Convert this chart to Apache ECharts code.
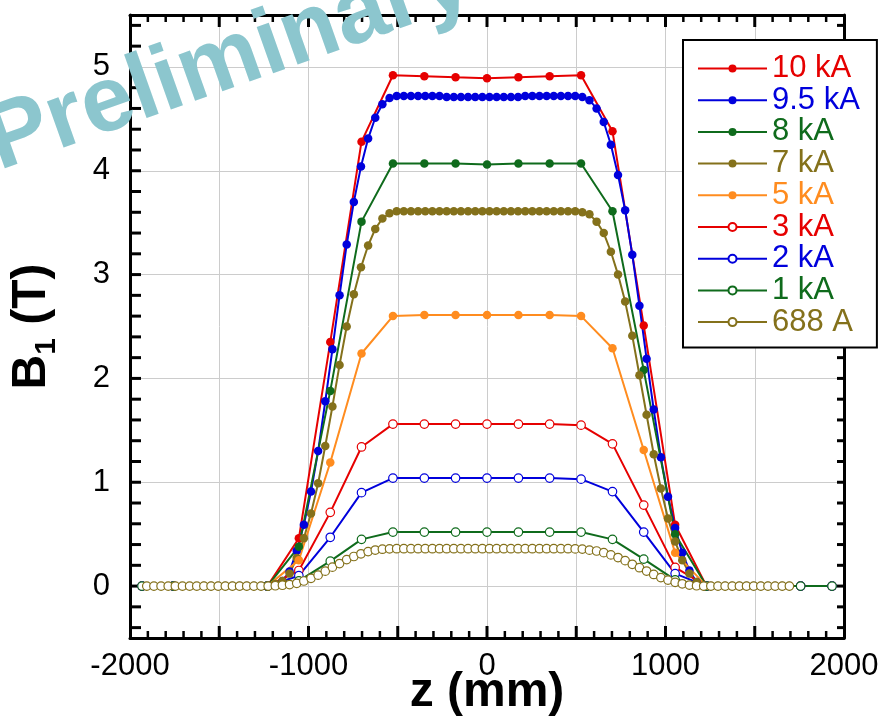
<!DOCTYPE html>
<html><head><meta charset="utf-8">
<script src="https://cdn.jsdelivr.net/npm/echarts@6/dist/echarts.min.js"></script>
<style>html,body{margin:0;padding:0;background:#fff}#c{width:885px;height:721px}</style>
</head><body><div id="c"></div>
<script>
// ---- data ----
const seriesNames = ['10 kA', '9.5 kA', '8 kA', '7 kA', '5 kA', '3 kA', '2 kA', '1 kA', '688 A'];
const X_MIN = -2000, X_MAX = 2000, Y_MIN = -0.5, Y_MAX = 5.5;
const xLabels = [-2000, -1000, 0, 1000, 2000];
const xMajorTicks = [-1500, -1000, -500, 0, 500, 1000, 1500];
const xMinorTicks = [-1900, -1800, -1700, -1600, -1400, -1300, -1200, -1100, -900, -800, -700, -600, -400, -300, -200, -100, 100, 200, 300, 400, 600, 700, 800, 900, 1100, 1200, 1300, 1400, 1600, 1700, 1800, 1900];
const yLabels = [0, 1, 2, 3, 4, 5];
const yMinorTicks = [-0.4, -0.2, 0, 0.2, 0.4, 0.6, 0.8, 1, 1.2, 1.4, 1.6, 1.8, 2, 2.2, 2.4, 2.6, 2.8, 3, 3.2, 3.4, 3.6, 3.8, 4, 4.2, 4.4, 4.6, 4.8, 5, 5.2, 5.4];

// z positions (mm) of the coarse scans
const zSparse = [-1933, -1757, -1230, -1054, -878, -703, -527, -351, -176, 0, 176, 351, 527, 703, 878, 1054, 1230, 1757, 1933];
// z positions (mm) of the fine scans
const zDense = [-1906, -1866, -1826, -1786, -1746, -1706, -1666, -1626, -1586, -1546, -1506, -1466, -1426, -1386, -1346, -1306, -1266, -1226, -1186, -1146, -1106, -1066, -1026, -986, -946, -906, -866, -826, -786, -746, -706, -666, -626, -586, -546, -506, -466, -426, -386, -346, -306, -266, -226, -186, -146, -106, -66, -26, 14, 54, 94, 134, 174, 214, 254, 294, 334, 374, 414, 454, 494, 534, 574, 614, 654, 694, 734, 774, 814, 854, 894, 934, 974, 1014, 1054, 1094, 1134, 1174, 1214, 1254, 1294, 1334, 1374, 1414, 1454, 1494, 1534, 1574, 1614, 1654, 1694];

const b10kA = [0, 0, 0, 0.46, 2.35, 4.28, 4.92, 4.91, 4.90, 4.89, 4.90, 4.91, 4.92, 4.38, 2.51, 0.59, 0, 0, 0];
const b8kA  = [0, 0, 0, 0.38, 1.88, 3.51, 4.07, 4.07, 4.07, 4.06, 4.07, 4.07, 4.07, 3.61, 2.08, 0.50, 0, 0, 0];
const b5kA  = [0, 0, 0, 0.25, 1.19, 2.24, 2.60, 2.61, 2.61, 2.61, 2.61, 2.61, 2.60, 2.29, 1.31, 0.32, 0, 0, 0];
const b3kA  = [0, 0, 0, 0.15, 0.71, 1.34, 1.56, 1.56, 1.56, 1.56, 1.56, 1.56, 1.55, 1.37, 0.78, 0.18, 0, 0, 0];
const b2kA  = [0, 0, 0, 0.10, 0.47, 0.90, 1.04, 1.04, 1.04, 1.04, 1.04, 1.04, 1.03, 0.91, 0.52, 0.12, 0, 0, 0];
const b1kA  = [0, 0, 0, 0.05, 0.24, 0.45, 0.52, 0.52, 0.52, 0.52, 0.52, 0.52, 0.52, 0.45, 0.26, 0.06, 0, 0, 0];

const b9p5kA = [null, null, null, null, null, null, null, null,
  0, 0, 0, 0, 0, 0, 0, 0, 0, 0,
  0.01, 0.05, 0.14, 0.34, 0.59, 0.91, 1.30, 1.78, 2.28, 2.80, 3.29, 3.70, 4.04, 4.31, 4.51, 4.64, 4.70, 4.72,
  4.72, 4.72, 4.72, 4.72, 4.72, 4.72, 4.71, 4.71, 4.71, 4.71, 4.71, 4.71, 4.71, 4.71, 4.71, 4.71, 4.71, 4.72, 4.72, 4.72, 4.72, 4.72, 4.72, 4.72,
  4.72, 4.71, 4.68, 4.60, 4.47, 4.25, 3.96, 3.62, 3.19, 2.70, 2.19, 1.70, 1.24, 0.86, 0.56, 0.32, 0.15, 0.04,
  0, 0, 0, 0, 0, 0, 0, 0, 0, 0, 0, 0, 0];
const b7kA = [null, null, null, null, null, null, null, null,
  0, 0, 0, 0, 0, 0, 0, 0, 0, 0,
  0.02, 0.05, 0.12, 0.27, 0.46, 0.70, 0.99, 1.35, 1.73, 2.13, 2.50, 2.81, 3.07, 3.28, 3.44, 3.54, 3.59, 3.61,
  3.61, 3.61, 3.61, 3.61, 3.61, 3.61, 3.61, 3.61, 3.61, 3.61, 3.61, 3.61, 3.61, 3.61, 3.61, 3.61, 3.61, 3.61, 3.61, 3.61, 3.61, 3.61, 3.61, 3.61,
  3.61, 3.60, 3.58, 3.51, 3.40, 3.22, 3.00, 2.74, 2.41, 2.03, 1.65, 1.27, 0.94, 0.65, 0.43, 0.25, 0.12, 0.04,
  0, 0, 0, 0, 0, 0, 0, 0, 0, 0, 0, 0, 0];
const b688A = [0, 0, 0, 0, 0, 0, 0, 0, 0, 0, 0, 0, 0, 0, 0, 0, 0, 0,
  0.003, 0.008, 0.015, 0.027, 0.049, 0.075, 0.105, 0.144, 0.182, 0.217, 0.255, 0.285, 0.311, 0.332, 0.347, 0.355, 0.359, 0.36,
  0.36, 0.36, 0.36, 0.36, 0.36, 0.36, 0.36, 0.36, 0.36, 0.36, 0.36, 0.36, 0.36, 0.36, 0.36, 0.36, 0.36, 0.36, 0.36, 0.36, 0.36, 0.36, 0.36, 0.36,
  0.358, 0.356, 0.346, 0.338, 0.322, 0.30, 0.275, 0.245, 0.21, 0.177, 0.145, 0.112, 0.082, 0.058, 0.036, 0.022, 0.01, 0.003,
  0, 0, 0, 0, 0, 0, 0, 0, 0, 0, 0, 0, 0];

// ---- styling ----
const FONT = '"Liberation Sans", Arial, Helvetica, sans-serif';
const RED = '#e60000', BLUE = '#0000dc', GREEN = '#0f6b1c', OLIVE = '#84711b', ORANGE = '#ff8c1f';

function pairs(z, v) {
  const out = [];
  for (let i = 0; i < z.length; i++) if (v[i] !== null && v[i] !== undefined) out.push([z[i], v[i]]);
  return out;
}
function mk(name, z, v, color, open) {
  return {
    type: 'line', name: name, xAxisIndex: 0, yAxisIndex: 0, data: pairs(z, v),
    symbol: 'circle', symbolSize: 8.5,
    lineStyle: { color: color, width: 2 },
    itemStyle: open ? { color: '#ffffff', borderColor: color, borderWidth: 1.2 }
                    : { color: color, borderWidth: 0 },
    emphasis: { disabled: true }
  };
}
const defs = [
  [b10kA, zSparse, RED, false],
  [b9p5kA, zDense, BLUE, false],
  [b8kA, zSparse, GREEN, false],
  [b7kA, zDense, OLIVE, false],
  [b5kA, zSparse, ORANGE, false],
  [b3kA, zSparse, RED, true],
  [b2kA, zSparse, BLUE, true],
  [b1kA, zSparse, GREEN, true],
  [b688A, zDense, OLIVE, true]
];
const series = defs.map((d, i) => mk(seriesNames[i], d[1], d[0], d[2], d[3]));
// horizontal grid lines at the labelled B values, drawn beneath the curves
series[0].markLine = {
  silent: true, z: 1, animation: false, symbol: ['none', 'none'],
  label: { show: false },
  lineStyle: { color: '#cccccc', width: 1, type: 'solid' },
  emphasis: { disabled: true },
  data: yLabels.map(v => ({ yAxis: v }))
};

// inward tick marks on all four sides, placed through the axes' own scales
// kind: 0 bottom major, 1 bottom minor, 2 top major, 3 top minor, 4 left, 5 right
const tickMarks = [].concat(
  xMajorTicks.map(v => [v, Y_MIN, 0]),
  xMinorTicks.map(v => [v, Y_MIN, 1]),
  xMajorTicks.map(v => [v, Y_MAX, 2]),
  xMinorTicks.map(v => [v, Y_MAX, 3]),
  yMinorTicks.map(v => [X_MIN, v, 4]),
  yMinorTicks.map(v => [X_MAX, v, 5])
);
const TICK_LEN = [12, 7, 12, 7, 11, 7];
series.push({
  type: 'custom', name: 'ticks', xAxisIndex: 0, yAxisIndex: 0, z: 3, silent: true, clip: false,
  dimensions: ['x', 'y', 'kind'], encode: { x: 'x', y: 'y' },
  data: tickMarks,
  renderItem: function (params, api) {
    const k = api.value(2);
    const p = api.coord([api.value(0), api.value(1)]);
    const L = TICK_LEN[k];
    let x2 = p[0], y2 = p[1];
    if (k === 0 || k === 1) y2 -= L;
    else if (k === 2 || k === 3) y2 += L;
    else if (k === 4) x2 += L;
    else x2 -= L;
    return { type: 'line', shape: { x1: p[0], y1: p[1], x2: x2, y2: y2 },
             style: { stroke: '#000', lineWidth: (k === 1 || k === 3) ? 2.5 : 3 } };
  }
});

const axisLine = { show: true, onZero: false, lineStyle: { color: '#000', width: 3 } };

const chart = echarts.init(document.getElementById('c'));
chart.setOption({
  animation: false,
  title: [{ text: '', show: false }],
  grid: [{ left: 130, right: 41, top: 15, bottom: 83, outerBoundsMode: 'none' }],
  xAxis: [{
    gridIndex: 0, type: 'value', min: X_MIN, max: X_MAX, interval: 500, position: 'bottom',
    axisLine: axisLine, axisTick: { show: false }, minorTick: { show: false },
    axisLabel: { customValues: xLabels, formatter: v => String(v), margin: 13, fontSize: 31, color: '#000', fontFamily: FONT },
    splitLine: { show: true, lineStyle: { color: '#cccccc', width: 1 } },
    name: 'z (mm)', nameLocation: 'middle', nameGap: 31, nameMoveOverlap: false,
    nameTextStyle: { fontSize: 48, fontWeight: 'bold', color: '#000', fontFamily: FONT }
  }, {
    gridIndex: 0, type: 'value', min: X_MIN, max: X_MAX, interval: 500, position: 'top',
    axisLine: axisLine, axisTick: { show: false }, minorTick: { show: false },
    axisLabel: { show: false }, splitLine: { show: false }
  }],
  yAxis: [{
    gridIndex: 0, type: 'value', min: Y_MIN, max: Y_MAX, interval: 0.5, position: 'left',
    axisLine: axisLine, axisTick: { show: false },
    axisLabel: { customValues: yLabels, formatter: v => String(v), margin: 20, fontSize: 31, color: '#000', fontFamily: FONT },
    splitLine: { show: false },
    name: '{b|B}{s|1}{b| (T)}', nameLocation: 'middle', nameRotate: 90, nameGap: 68, nameMoveOverlap: false,
    nameTextStyle: { color: '#000', fontFamily: FONT,
      rich: {
        b: { fontSize: 48, fontWeight: 'bold', color: '#000', fontFamily: FONT },
        s: { fontSize: 30, fontWeight: 'bold', color: '#000', fontFamily: FONT, verticalAlign: 'bottom', padding: [30, 0, 0, 0] }
      } }
  }, {
    gridIndex: 0, type: 'value', min: Y_MIN, max: Y_MAX, interval: 0.5, position: 'right',
    axisLine: axisLine, axisTick: { show: false },
    axisLabel: { show: false }, splitLine: { show: false }
  }],
  legend: {
    orient: 'vertical', left: 683, top: 40,
    padding: [13, 17, 10, 14], itemGap: 0.7, itemWidth: 69, itemHeight: 10,
    backgroundColor: '#ffffff', borderColor: '#000', borderWidth: 2, borderRadius: 0,
    textStyle: { fontSize: 31, lineHeight: 31, fontFamily: FONT },
    data: seriesNames.map((n, i) => ({ name: n, textStyle: { color: defs[i][2] } })),
    selectedMode: false
  },
  graphic: [{
    type: 'text', x: 6, y: 190, rotation: 19.5 * Math.PI / 180, z: 100,
    style: { text: 'Preliminary', font: 'bold 93px "Liberation Sans", Arial, sans-serif', fill: '#8cc6ce', align: 'left', verticalAlign: 'bottom' }
  }],
  series: series
});
</script>
</body></html>
